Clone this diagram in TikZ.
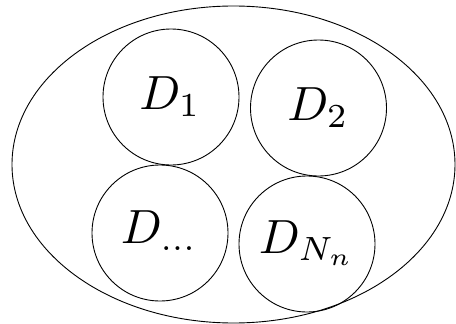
\documentclass[tikz,border=0pt]{standalone}
\usetikzlibrary{shapes.geometric}
\begin{document}
\begin{tikzpicture}[x=1pt,y=-1pt,
  setbox/.style={draw=black, line width=0.9pt, ellipse, inner sep=0pt, minimum width=443pt, minimum height=317pt},
  subset/.style={draw=black, line width=0.9pt, circle, inner sep=0pt, minimum size=136pt},
  lbl/.style={scale=4.8, inner sep=0pt}]
\useasboundingbox (0,0) rectangle (456,324);
\node[setbox] (omega) at (233.5,164.5) {};
\node[subset] (c1) at (171,97) {};
\node[subset] (c2) at (318.5,108) {};
\node[subset] (c3) at (160,233) {};
\node[subset] (c4) at (307,244) {};
\node[lbl] (l1) at (170,97) {$D_1$};
\node[lbl] (l2) at (318,108) {$D_2$};
\node[lbl] (l3) at (159,231) {$D_{\dots}$};
\node[lbl] (l4) at (307,243) {$D_{N_n}$};
\end{tikzpicture}
\end{document}
